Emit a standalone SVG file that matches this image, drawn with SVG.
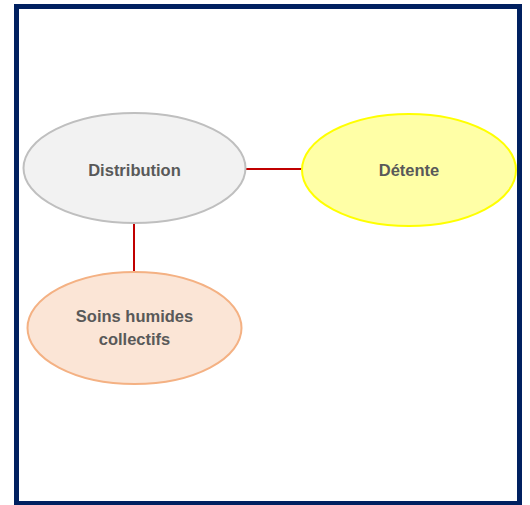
<svg xmlns="http://www.w3.org/2000/svg" width="530" height="505" viewBox="0 0 530 505">
<style>
.lbl{font-family:"Liberation Sans",Arial,sans-serif;font-weight:bold;font-size:16.5px;fill:#595959;text-anchor:middle}
.conn{stroke:#c00000;stroke-width:2;fill:none}
</style>
<rect x="0" y="0" width="530" height="505" fill="#ffffff"/>
<rect x="16.5" y="6.5" width="503" height="497" fill="#ffffff" stroke="#002060" stroke-width="5"/>
<g id="connectors">
<line class="conn" x1="246" y1="169" x2="302" y2="169"/>
<line class="conn" x1="134" y1="224" x2="134" y2="272"/>
</g>
<g id="distribution">
<ellipse cx="134.5" cy="168" rx="111" ry="55" fill="#f2f2f2" stroke="#bfbfbf" stroke-width="2"/>
<text class="lbl" x="134.5" y="176">Distribution</text>
</g>
<g id="detente">
<ellipse cx="409" cy="170" rx="107" ry="56" fill="#ffffa6" stroke="#ffff00" stroke-width="2"/>
<text class="lbl" x="409" y="176">Détente</text>
</g>
<g id="soins">
<ellipse cx="134.5" cy="328" rx="107" ry="56" fill="#fbe5d6" stroke="#f4b183" stroke-width="2"/>
<text class="lbl" x="134.5" y="322">Soins humides</text>
<text class="lbl" x="134.5" y="345">collectifs</text>
</g>
</svg>
